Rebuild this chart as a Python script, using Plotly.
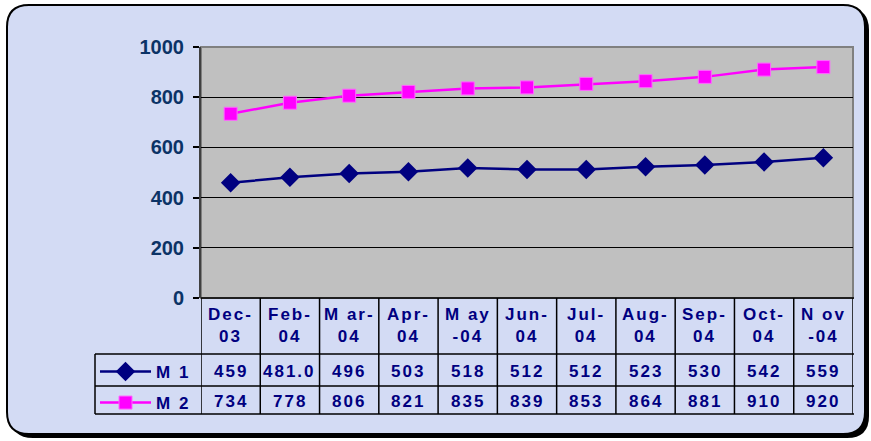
import plotly.graph_objects as go

W, H = 871, 441

categories = ["Dec-03", "Feb-04", "Mar-04", "Apr-04", "May-04", "Jun-04",
              "Jul-04", "Aug-04", "Sep-04", "Oct-04", "Nov-04"]
header_labels = ["Dec-<br>03", "Feb-<br>04", "M ar-<br>04", "Apr-<br>04", "M ay<br>-04",
                 "Jun-<br>04", "Jul-<br>04", "Aug-<br>04", "Sep-<br>04", "Oct-<br>04", "N ov<br>-04"]
m1_values = [459, 481.0, 496, 503, 518, 512, 512, 523, 530, 542, 559]
m1_labels = ["459", "481.0", "496", "503", "518", "512", "512", "523", "530", "542", "559"]
m2_values = [734, 778, 806, 821, 835, 839, 853, 864, 881, 910, 920]
m2_labels = ["734", "778", "806", "821", "835", "839", "853", "864", "881", "910", "920"]
series_names = ["M 1", "M 2"]
y_ticks = [0, 200, 400, 600, 800, 1000]

NAVY = "#000080"
TICK = "#0B3366"
FONT = "Arial, Liberation Sans, sans-serif"
BG = "#D3DBF4"


def px(x):
    return x / W


def py(y):
    return 1 - y / H


def sp(t, ls=2):
    return '<span style="letter-spacing:%dpx">%s</span>' % (ls, t)


# plot area in pixels
X0, X1, YT, YB = 201, 853, 47, 298
ROW1, ROW2, ROW3 = 354, 386, 414
TBL_L = 95

fig = go.Figure()
fig.add_trace(go.Scatter(x=categories, y=m1_values, name=sp(series_names[0]), mode="lines+markers",
                         line=dict(color=NAVY, width=2.5), legend="legend",
                         marker=dict(symbol="diamond", size=15, color=NAVY)))
fig.add_trace(go.Scatter(x=categories, y=m2_values, name=sp(series_names[1]), mode="lines+markers",
                         line=dict(color="#FF00FF", width=2.5), legend="legend2",
                         marker=dict(symbol="square", size=13, color="#FF00FF",
                                     line=dict(color="#FF66FF", width=1))))


def rounded(l, t, r, b, rad):
    return ("M {a},{b0} L {c},{b0} Q {r},{b0} {r},{d} L {r},{e} Q {r},{bb} {c},{bb} "
            "L {a},{bb} Q {l},{bb} {l},{e} L {l},{d} Q {l},{b0} {a},{b0} Z").format(
        a=px(l + rad), c=px(r - rad), b0=py(t), r=px(r), d=py(t + rad), e=py(b - rad),
        bb=py(b), l=px(l))


shapes = []
# shadow and outer box
shapes.append(dict(type="path", xref="paper", yref="paper", layer="below",
                   path=rounded(11, 8, 869, 438, 22), fillcolor="#000000", line=dict(width=0)))
shapes.append(dict(type="path", xref="paper", yref="paper", layer="below",
                   path=rounded(7, 5, 865, 434, 22), fillcolor=BG, line=dict(color="#000000", width=2)))
# plot area
shapes.append(dict(type="rect", xref="paper", yref="paper", layer="below",
                   x0=px(X0), x1=px(X1), y0=py(YB), y1=py(YT), fillcolor="#C0C0C0",
                   line=dict(color="#808080", width=2)))
# table horizontal lines
for yy, xl in [(YB, X0), (ROW1, TBL_L), (ROW2, TBL_L), (ROW3, TBL_L)]:
    shapes.append(dict(type="line", xref="paper", yref="paper", x0=px(xl), x1=px(X1 + 1),
                       y0=py(yy), y1=py(yy), line=dict(color="#000000", width=1.5)))
# table verticals
shapes.append(dict(type="line", xref="paper", yref="paper", x0=px(TBL_L), x1=px(TBL_L),
                   y0=py(ROW1), y1=py(ROW3), line=dict(color="#000000", width=1.5)))
for i in range(len(categories) + 1):
    shapes.append(dict(type="line", xref="x", yref="paper", x0=i - 0.5, x1=i - 0.5,
                       y0=py(YB), y1=py(ROW3), line=dict(color="#000000", width=1.5)))

annotations = []
cell_font = dict(family=FONT, size=17, color=NAVY, weight="bold")
for i, c in enumerate(categories):
    annotations.append(dict(x=c, xref="x", y=py(325), yref="paper", text=sp(header_labels[i]),
                            showarrow=False, xanchor="center", yanchor="middle", font=cell_font))
    annotations.append(dict(x=c, xref="x", y=py(371), yref="paper", text=sp(m1_labels[i]),
                            showarrow=False, xanchor="center", yanchor="middle", font=cell_font))
    annotations.append(dict(x=c, xref="x", y=py(401), yref="paper", text=sp(m2_labels[i]),
                            showarrow=False, xanchor="center", yanchor="middle", font=cell_font))

legend_common = dict(xanchor="left", yanchor="middle", bgcolor="rgba(0,0,0,0)",
                     font=dict(family=FONT, size=17, color=NAVY, weight="bold"), itemwidth=51)

fig.update_layout(
    width=W, height=H, margin=dict(l=0, r=0, t=0, b=0, pad=0, autoexpand=False),
    paper_bgcolor="white", plot_bgcolor="rgba(0,0,0,0)",
    font=dict(family=FONT),
    shapes=shapes, annotations=annotations,
    showlegend=True,
    legend=dict(x=px(95), y=py(372), **legend_common),
    legend2=dict(x=px(95), y=py(403), **legend_common),
    xaxis=dict(domain=[px(X0), px(X1)], type="category", categoryorder="array",
               categoryarray=categories, range=[-0.5, len(categories) - 0.5], automargin=False,
               showgrid=False, showticklabels=False, ticks="", showline=False, zeroline=False),
    yaxis=dict(domain=[py(YB), py(YT)], range=[0, 1000], tickvals=y_ticks, automargin=False,
               showgrid=True, gridcolor="#000000", gridwidth=1, zeroline=False,
               ticks="outside", ticklen=6, tickcolor="#000000", tickwidth=1.5,
               showline=True, linecolor="#404040", linewidth=2, ticklabelstandoff=5,
               tickfont=dict(family=FONT, size=20, color=TICK, weight="bold")),
)

post = ("document.body.style.margin='0';document.body.style.padding='0';"
        "var d=document.getElementById('{plot_id}');d.style.position='absolute';"
        "d.style.left='0px';d.style.top='0px';")
fig.write_html("out.html", post_script=post, config={"displayModeBar": False})
